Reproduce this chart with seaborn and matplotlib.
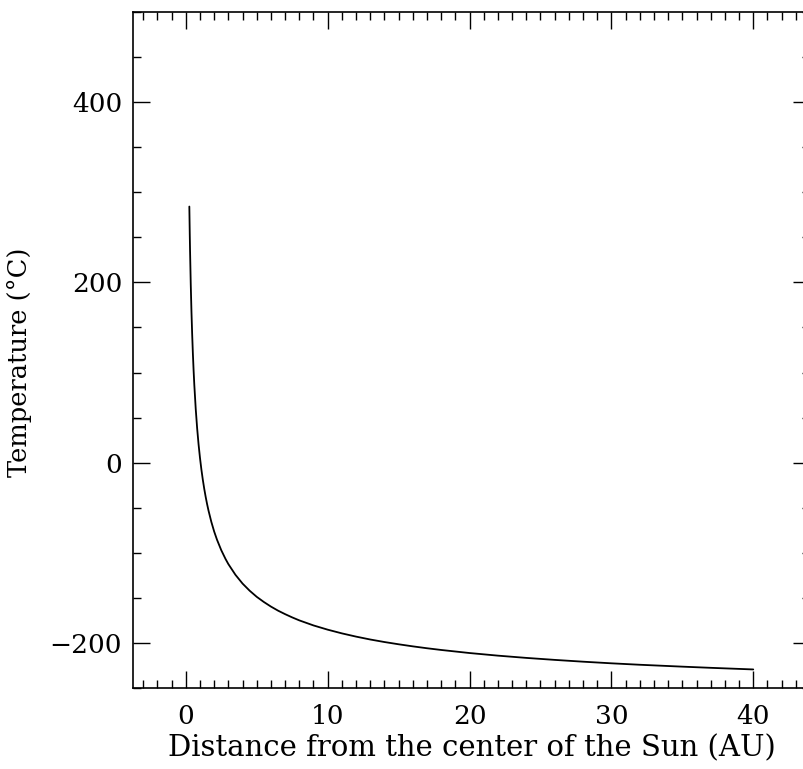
import matplotlib
matplotlib.use("Agg")
import matplotlib.pyplot as plt
from matplotlib.ticker import MultipleLocator
import seaborn as sns
import pandas as pd

# Values
distance_au = [0.25, 0.28, 0.3, 0.35, 0.4, 0.45, 0.5, 0.55, 0.6, 0.7, 0.8, 0.9,
               1.0, 1.1, 1.2, 1.3, 1.4, 1.5, 1.6, 1.8, 2.0, 2.2, 2.5, 2.8,
               3.0, 3.5, 4.0, 4.5, 5.0, 5.5, 6.0, 6.5, 7.0, 7.5, 8.0, 9.0,
               10.0, 11.0, 12.0, 13.0, 14.0, 15.0, 16.0, 17.0, 18.0, 20.0,
               22.0, 24.0, 26.0, 28.0, 30.0, 32.0, 35.0, 37.0, 40.0]
temperature_c = [284.0, 253.3, 235.5, 197.8, 167.3, 142.2, 120.9, 102.5, 86.5, 59.8, 38.3, 20.5,
                 5.5, -7.5, -18.8, -28.8, -37.7, -45.7, -52.9, -65.5, -76.2, -85.3, -96.9, -106.6,
                 -112.3, -124.2, -133.9, -141.8, -148.6, -154.3, -159.4, -163.9, -167.8, -171.4, -174.7, -180.3,
                 -185.0, -189.1, -192.7, -195.9, -198.7, -201.2, -203.5, -205.6, -207.5, -210.9,
                 -213.8, -216.3, -218.5, -220.5, -222.3, -223.9, -226.0, -227.3, -229.1]
x_ticks = [0, 10, 20, 30, 40]
y_ticks = [-200, 0, 200, 400]

df = pd.DataFrame({"d": distance_au, "T": temperature_c})

sns.set_theme(style="ticks")
plt.rcParams["font.family"] = ["DejaVu Serif"]
plt.rcParams["text.color"] = "black"
plt.rcParams["axes.labelcolor"] = "black"

fig = plt.figure(figsize=(8.04, 7.69), dpi=100)
W, H = 804, 769
left, right, top, bottom = 133.3, 810, 11.7, 688.3
ax = fig.add_axes([left / W, 1 - bottom / H, (right - left) / W, (bottom - top) / H])

sns.lineplot(data=df, x="d", y="T", ax=ax, color="black", linewidth=1.3,
             sort=False, estimator=None)

ax.set_xlim(-3.7, 44.0)
ax.set_ylim(-250, 500)
ax.set_xticks(x_ticks)
ax.set_yticks(y_ticks)
ax.set_yticklabels(["\u2212200", "0", "200", "400"])
ax.xaxis.set_minor_locator(MultipleLocator(1))
ax.yaxis.set_minor_locator(MultipleLocator(50))
ax.tick_params(which="both", direction="in", top=True, right=True,
               colors="black", labelcolor="black", width=1.0, labelsize=19)
ax.tick_params(axis="y", which="both", pad=8)
ax.tick_params(axis="x", which="both", pad=11)
ax.tick_params(which="major", length=12.5)
ax.tick_params(which="minor", length=6)
for s in ax.spines.values():
    s.set_color("black")
    s.set_linewidth(1.2)

ax.set_xlabel("Distance from the center of the Sun (AU)", fontsize=21, labelpad=4)
ax.set_ylabel("Temperature (\u00b0C)", fontsize=18.5)
ax.yaxis.set_label_coords(-0.150, 0.482)

fig.savefig("out.png", dpi=100)
